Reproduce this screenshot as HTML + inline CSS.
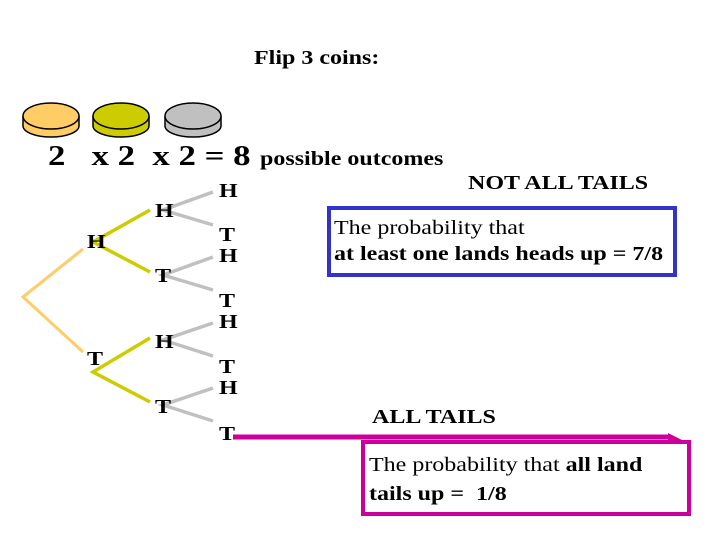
<!DOCTYPE html>
<html><head><style>
body{margin:0;width:720px;height:540px;background:#fff;overflow:hidden;position:relative;font-family:"Liberation Serif",serif;}
.t{position:absolute;white-space:nowrap;color:#000;transform:scaleX(1.2);transform-origin:0 0;}
</style></head><body>
<svg width="720" height="540" style="position:absolute;left:0;top:0">
<g stroke="#000" stroke-width="1.5">
<path d="M23,116 v10 a28,11 0 0 0 56,0 v-10" fill="#ffcc66"/><ellipse cx="51" cy="116" rx="28" ry="13" fill="#ffcc66"/>
<path d="M93,116 v10 a28,11 0 0 0 56,0 v-10" fill="#cccc00"/><ellipse cx="121" cy="116" rx="28" ry="13" fill="#cccc00"/>
<path d="M165,116 v10 a28,11 0 0 0 56,0 v-10" fill="#c0c0c0"/><ellipse cx="193" cy="116" rx="28" ry="13" fill="#c0c0c0"/>
</g>
<g stroke="#ffcc66" stroke-width="3" fill="none"><path d="M83,249 L23,297 L83,352"/></g>
<g stroke="#cccc00" stroke-width="3.5" fill="none"><path d="M150,210 L93,242 L150,272 M150,338 L93,372 L150,402"/></g>
<g stroke="#c0c0c0" stroke-width="3.5" fill="none">
<path d="M213,192 L163,210 L213,225 M213,257 L163,275 L213,290 M213,323 L163,340 L213,356 M213,388 L163,405 L213,421"/></g>
<path d="M233,437 H670" stroke="#cc0099" stroke-width="5"/>
<path d="M668,433 L682,440 L668,440Z" fill="#cc0099"/>
<rect x="329" y="208" width="346" height="67" fill="none" stroke="#3333cc" stroke-width="4"/>
<rect x="363" y="442" width="326" height="72" fill="none" stroke="#cc0099" stroke-width="4"/>
</svg>
<div class="t" style="left:254px;top:47px;font-size:20px;font-weight:bold">Flip 3 coins:</div>
<div class="t" style="left:48px;top:140px;font-size:29px;font-weight:bold">2&nbsp;&nbsp; x 2&nbsp; x 2 = 8</div>
<div class="t" style="left:260px;top:148px;font-size:20px;font-weight:bold">possible outcomes</div>
<div class="t" style="left:468px;top:172px;font-size:20px;font-weight:bold">NOT ALL TAILS</div>
<div class="t" style="left:334px;top:215px;font-size:20px;line-height:26px">The probability that<br><b>at least one lands heads up = 7/8</b></div>
<div class="t" style="left:372px;top:406px;font-size:20px;font-weight:bold">ALL TAILS</div>
<div class="t" style="left:369px;top:451px;font-size:20px;line-height:29px">The probability that <b>all land</b><br><b>tails up =&nbsp; 1/8</b></div>
<div style="font-size:20px;font-weight:bold">
<div class="t" style="left:87px;top:231px">H</div>
<div class="t" style="left:87px;top:348px">T</div>
<div class="t" style="left:155px;top:200px">H</div>
<div class="t" style="left:155px;top:265px">T</div>
<div class="t" style="left:155px;top:331px">H</div>
<div class="t" style="left:155px;top:396px">T</div>
<div class="t" style="left:219px;top:180px">H</div>
<div class="t" style="left:219px;top:224px">T</div>
<div class="t" style="left:219px;top:245px">H</div>
<div class="t" style="left:219px;top:290px">T</div>
<div class="t" style="left:219px;top:311px">H</div>
<div class="t" style="left:219px;top:356px">T</div>
<div class="t" style="left:219px;top:377px">H</div>
<div class="t" style="left:219px;top:423px">T</div>
</div>
</body></html>
